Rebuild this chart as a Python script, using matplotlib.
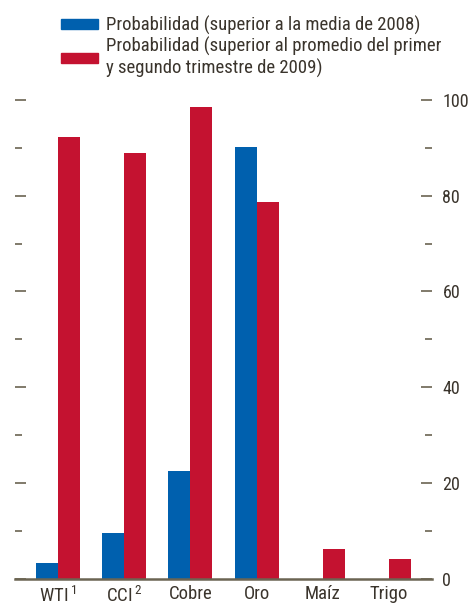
import matplotlib
matplotlib.use("Agg")
import matplotlib.pyplot as plt
import numpy as np
from matplotlib.ticker import MultipleLocator
from matplotlib.patches import Patch

categories = [r"WTI$^{\,1}$", r"CCI$^{\,2}$", "Cobre", "Oro", "Maíz", "Trigo"]
prob_2008 = [3.3, 9.6, 22.5, 90.2, 0, 0]
prob_2009 = [92.3, 88.9, 98.5, 78.7, 6.2, 4.1]
labels = ["Probabilidad (superior a la media de 2008)",
          "Probabilidad (superior al promedio del primer\ny segundo trimestre de 2009)"]

blue = "#0060ae"
red = "#c41230"
txt = "#3a342c"
axis_col = "#6b6452"

plt.rcParams["font.family"] = ["Roboto Condensed", "DejaVu Sans"]
plt.rcParams["mathtext.fontset"] = "custom"
plt.rcParams["mathtext.rm"] = "Roboto Condensed"
plt.rcParams["mathtext.default"] = "regular"

fig = plt.figure(figsize=(4.69, 6.05), dpi=100)
ax = fig.add_axes([15/469, 26.5/605, 417/469, 478.5/605])

x = np.arange(len(categories))
w = 1/3
ax.bar(x - w/2, prob_2008, w, color=blue, zorder=2)
ax.bar(x + w/2, prob_2009, w, color=red, zorder=2)

ax.set_xlim(-0.65, 5.65)
ax.set_ylim(0, 100)
for s in ["left", "right", "top"]:
    ax.spines[s].set_visible(False)
ax.spines["bottom"].set_color(axis_col)
ax.spines["bottom"].set_linewidth(1.8)
ax.spines["bottom"].set_zorder(3)

ax.set_xticks(x)
ax.set_xticklabels(categories, fontsize=13.5, color=txt)
ax.tick_params(axis="x", length=0, pad=5)

ax.yaxis.set_major_locator(MultipleLocator(20))
ax.yaxis.set_minor_locator(MultipleLocator(10))
ax.tick_params(axis="y", which="both", direction="in", left=True, right=True,
               labelleft=False, labelright=True, color=axis_col, width=1.2,
               labelsize=13, labelcolor=txt, pad=7.5)
ax.tick_params(axis="y", which="major", length=8)
ax.tick_params(axis="y", which="minor", length=5)

handles = [Patch(color=blue), Patch(color=red)]
fig.legend(handles, labels, loc="upper left", bbox_to_anchor=(53/469, 1 - 8/605),
           frameon=False, fontsize=13.5, labelcolor=txt, handlelength=2.0,
           handleheight=0.45, handletextpad=0.4, labelspacing=0.12,
           borderaxespad=0)

fig.savefig("out.png", dpi=100)
